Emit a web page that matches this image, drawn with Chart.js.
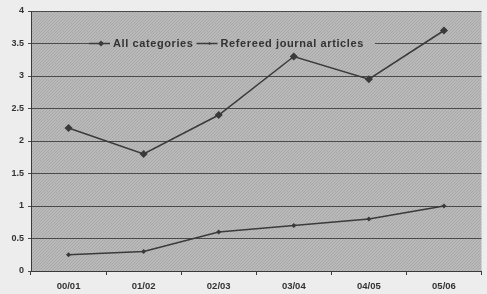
<!DOCTYPE html>
<html>
<head>
<meta charset="utf-8">
<script src="https://cdn.jsdelivr.net/npm/chart.js@4/dist/chart.umd.min.js"></script>
<style>
  html, body { margin: 0; padding: 0; background: #ededed; }
  #wrap { width: 487px; height: 294px; }
</style>
</head>
<body>
<div id="wrap"><canvas id="chart" width="487" height="294"></canvas></div>
<script>
const years = ["00/01", "01/02", "02/03", "03/04", "04/05", "05/06"];
const allCategories = [2.2, 1.8, 2.4, 3.3, 2.95, 3.7];
const refereedArticles = [0.25, 0.3, 0.6, 0.7, 0.8, 1.0];
const yTicks = ["0", "0.5", "1", "1.5", "2", "2.5", "3", "3.5", "4"];

const ink = "#3a3a3a";
const plotGray = "#b4b4b4";

// dotted texture for the plot area
function makePattern(ctx) {
  const c = document.createElement("canvas");
  c.width = 3; c.height = 3;
  const p = c.getContext("2d");
  p.fillStyle = "#b9b9b9";
  p.fillRect(0, 0, 3, 3);
  p.fillStyle = "#a9a9a9";
  p.fillRect(0, 0, 1, 1);
  p.fillRect(2, 1, 1, 1);
  p.fillRect(1, 2, 1, 1);
  return ctx.createPattern(c, "repeat");
}

const plotBackground = {
  id: "plotBackground",
  beforeDraw(chart) {
    const { ctx, chartArea: a } = chart;
    ctx.save();
    ctx.fillStyle = makePattern(ctx);
    ctx.fillRect(a.left, a.top, a.right - a.left, a.bottom - a.top);
    ctx.restore();
  }
};

// legend sits inside the plot, on the 3.5 gridline
const insideLegend = {
  id: "insideLegend",
  afterDatasetsDraw(chart) {
    const { ctx } = chart;
    const y = chart.scales.y.getPixelForValue(3.5);
    const sets = chart.data.datasets;
    ctx.save();
    ctx.font = "bold 11px 'Liberation Sans', Arial, sans-serif";
    ctx.letterSpacing = "0.6px";
    ctx.textBaseline = "middle";
    let x = 89;
    ctx.fillStyle = makePattern(ctx);
    ctx.fillRect(x, y - 6, 286, 12);
    sets.forEach((ds, i) => {
      ctx.strokeStyle = ink;
      ctx.lineWidth = 1.5;
      ctx.beginPath();
      ctx.moveTo(x, y);
      ctx.lineTo(x + 21, y);
      ctx.stroke();
      ctx.fillStyle = ink;
      ctx.beginPath();
      const r = i === 0 ? 3 : 1.5;
      const mx = x + (i === 0 ? 12 : 13);
      ctx.moveTo(mx, y - r);
      ctx.lineTo(mx + r, y);
      ctx.lineTo(mx, y + r);
      ctx.lineTo(mx - r, y);
      ctx.closePath();
      ctx.fill();
      x += 24;
      ctx.fillStyle = "#333";
      ctx.fillText(ds.label, x, y + 0.5);
      x += ctx.measureText(ds.label).width + 3;
    });
    ctx.restore();
  }
};

new Chart(document.getElementById("chart"), {
  type: "line",
  data: {
    labels: years,
    datasets: [
      {
        label: "All categories",
        data: allCategories,
        borderColor: ink,
        backgroundColor: ink,
        borderWidth: 1.5,
        pointStyle: "rectRot",
        pointRadius: 3,
        pointHoverRadius: 3,
        tension: 0,
      },
      {
        label: "Refereed journal articles",
        data: refereedArticles,
        borderColor: ink,
        backgroundColor: ink,
        borderWidth: 1.5,
        pointStyle: "rectRot",
        pointRadius: 1.5,
        tension: 0,
      },
    ],
  },
  options: {
    responsive: false,
    animation: false,
    layout: { padding: { top: 11, right: 0, bottom: 0, left: 0 } },
    plugins: {
      legend: { display: false },
      tooltip: { enabled: false },
    },
    scales: {
      x: {
        offset: true,
        grid: {
          offset: true,
          drawOnChartArea: false,
          drawTicks: true,
          tickLength: 4,
          color: ink,
        },
        border: { color: ink, width: 1 },
        ticks: {
          color: "#333",
          font: { family: "'Liberation Sans', Arial, sans-serif", size: 9.5, weight: "bold" },
          padding: 6,
          maxRotation: 0,
        },
        afterFit(scale) { scale.height = 23; },
      },
      y: {
        min: 0,
        max: 4,
        ticks: {
          stepSize: 0.5,
          color: "#333",
          font: { family: "'Liberation Sans', Arial, sans-serif", size: 9, weight: "bold" },
          padding: 4,
          callback: (v, i) => yTicks[i],
        },
        grid: {
          color: "#4a4a4a",
          lineWidth: 1,
          tickLength: 3,
        },
        border: { color: ink, width: 1 },
        afterFit(scale) { scale.width = 31; },
      },
    },
  },
  plugins: [plotBackground, insideLegend],
});
</script>
</body>
</html>
